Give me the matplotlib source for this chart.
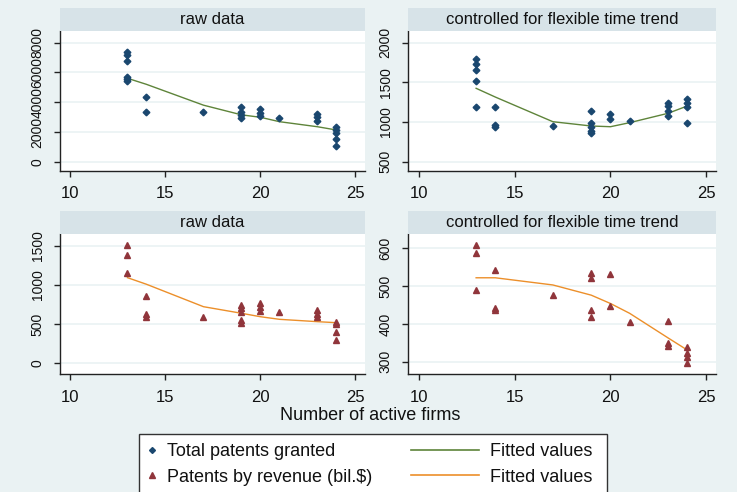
import matplotlib
matplotlib.use('Agg')
import matplotlib.pyplot as plt
from matplotlib.lines import Line2D
from matplotlib.patches import Rectangle

plt.rcParams['font.family'] = ['Liberation Sans', 'DejaVu Sans']

# ---------------- data ----------------
x_tot_raw = [13, 13, 13, 13, 13, 13, 14, 14, 17, 19, 19, 19, 19, 20, 20, 20, 21, 23, 23, 23, 24, 24, 24, 24, 24]
tot_raw = [7350, 7150, 6750, 5700, 5550, 5450, 4370, 3360, 3360, 3700, 3360, 3140, 2920,
           3520, 3290, 3070, 2960, 3210, 2990, 2760, 2350, 2130, 1910, 1510, 1080]

x_tot_ctrl = [13, 13, 13, 13, 13, 14, 14, 14, 17, 19, 19, 19, 19, 19, 20, 20, 21, 23, 23, 23, 23, 24, 24, 24, 24]
tot_ctrl = [1800, 1730, 1655, 1515, 1186, 1186, 958, 932, 954, 1143, 992, 934, 891, 858,
            1098, 1034, 1017, 1236, 1202, 1139, 1080, 1287, 1236, 1186, 992]

x_rev_raw = [13, 13, 13, 14, 14, 14, 17, 19, 19, 19, 19, 19, 20, 20, 20, 21, 23, 23, 23, 24, 24, 24, 24]
rev_raw = [1510, 1380, 1155, 862, 629, 594, 594, 744, 702, 658, 552, 510,
           765, 722, 667, 650, 680, 629, 587, 531, 497, 395, 297]

x_rev_ctrl = [13, 13, 13, 14, 14, 14, 17, 19, 19, 19, 19, 20, 20, 21, 23, 23, 23, 24, 24, 24, 24]
rev_ctrl = [609, 587, 490, 543, 443, 437, 476, 534, 522, 437, 419, 531, 448, 406,
            408, 349, 342, 340, 322, 313, 296]

fit_x = [13, 14, 17, 19, 20, 21, 23, 24]
fit_tot_raw = [5607, 5200, 3800, 3150, 2985, 2690, 2350, 2130]
fit_tot_ctrl = [1425, 1315, 1004, 950, 941, 992, 1110, 1202]
fit_rev_raw = [1092, 1008, 722, 638, 594, 561, 531, 518]
fit_rev_ctrl = [522, 522, 503, 476, 454, 428, 363, 331]

x_ticks = [10, 15, 20, 25]
yt_tot_raw = [0, 2000, 4000, 6000, 8000]
yt_tot_ctrl = [500, 1000, 1500, 2000]
yt_rev_raw = [0, 500, 1000, 1500]
yt_rev_ctrl = [300, 400, 500, 600]

panel_titles = ['raw data', 'controlled for flexible time trend',
                'raw data', 'controlled for flexible time trend']
xlabel = 'Number of active firms'
legend_labels = ['Total patents granted', 'Patents by revenue (bil.$)',
                 'Fitted values', 'Fitted values']

# ---------------- style ----------------
BG = '#EAF2F3'
BAND = '#D7E3E8'
NAVY = '#1A476F'
MAROON = '#90353B'
GREEN = '#5E843A'
ORANGE = '#EC8F2A'
SPINE = '#222222'

W, H = 737, 492
fig = plt.figure(figsize=(W / 100, H / 100), dpi=100, facecolor=BG)


def rect(l, t, r, b):
    return [l / W, 1 - b / H, (r - l) / W, (b - t) / H]


panels = [
    ((60, 31, 365, 171), x_tot_raw, tot_raw, fit_tot_raw, 'D', 3.4, NAVY, GREEN, (-625, 8786), yt_tot_raw),
    ((408, 31, 716, 171), x_tot_ctrl, tot_ctrl, fit_tot_ctrl, 'D', 3.4, NAVY, GREEN, (382.8, 2147.5), yt_tot_ctrl),
    ((60, 234.3, 365, 374.3), x_rev_raw, rev_raw, fit_rev_raw, '^', 5.0, MAROON, ORANGE, (-140, 1645), yt_rev_raw),
    ((408, 234.3, 716, 374.3), x_rev_ctrl, rev_ctrl, fit_rev_ctrl, '^', 5.0, MAROON, ORANGE, (266.7, 637), yt_rev_ctrl),
]

for i, (box, xs, ys, fy, mk, ms, mc, lc, ylim, yt) in enumerate(panels):
    l, t, r, b = box
    ax = fig.add_axes(rect(l, t, r, b))
    ax.set_facecolor('white')
    ax.plot(fit_x, fy, color=lc, lw=1.0, zorder=3)
    ax.plot(xs, ys, linestyle='none', marker=mk, ms=ms, color=mc, mec=mc, zorder=4)
    ax.set_xlim(9.45, 25.5)
    ax.set_ylim(*ylim)
    ax.set_xticks(x_ticks)
    ax.set_yticks(yt)
    ax.yaxis.grid(True, color=BG, lw=1.2, zorder=0)
    ax.set_axisbelow(True)
    for s in ('top', 'right'):
        ax.spines[s].set_visible(False)
    for s in ('left', 'bottom'):
        ax.spines[s].set_color(SPINE)
        ax.spines[s].set_linewidth(1.0)
    ax.tick_params(axis='x', direction='out', length=4, width=1, color=SPINE,
                   labelsize=12, pad=7, labelcolor='#111111')
    ax.tick_params(axis='y', direction='out', length=4, width=1, color=SPINE,
                   labelsize=10, pad=7, labelrotation=90, labelcolor='#111111')
    for lab in ax.get_yticklabels():
        lab.set_va('center')
    # title band
    fig.add_artist(Rectangle((l / W, 1 - t / H), (r - l) / W, 23 / H,
                             transform=fig.transFigure, facecolor=BAND,
                             edgecolor='none', zorder=1))
    fig.text((l + r) / 2 / W, 1 - (t - 11.5) / H, panel_titles[i], ha='center',
             va='center', fontsize=12, color='#111111')

fig.text(370 / W, 1 - 415 / H, xlabel, ha='center', va='center', fontsize=13, color='#111111')

# legend frame
fig.add_artist(Rectangle((139 / W, 1 - 500 / H), (607 - 139) / W, (500 - 434) / H,
                         transform=fig.transFigure, facecolor='white',
                         edgecolor='#333333', lw=1.0, zorder=1))

h1 = [Line2D([], [], linestyle='none', marker='D', ms=3.0, color=NAVY),
      Line2D([], [], linestyle='none', marker='^', ms=4.5, color=MAROON)]
h2 = [Line2D([], [], color=GREEN, lw=1.2), Line2D([], [], color=ORANGE, lw=1.2)]

leg1 = fig.legend(h1, legend_labels[:2], loc='upper left',
                  bbox_to_anchor=(144.5 / W, 1 - 443.5 / H), frameon=False,
                  fontsize=13, handlelength=0.8, handletextpad=0.43,
                  labelspacing=0.45, borderpad=0, borderaxespad=0)
leg2 = fig.legend(h2, legend_labels[2:], loc='upper left',
                  bbox_to_anchor=(411 / W, 1 - 443.5 / H), frameon=False,
                  fontsize=13, handlelength=3.78, handletextpad=0.61,
                  labelspacing=0.45, borderpad=0, borderaxespad=0)
for lg in (leg1, leg2):
    lg.set_zorder(5)
    for tx in lg.get_texts():
        tx.set_color('#111111')

fig.savefig('out.png', dpi=100, facecolor=BG)
